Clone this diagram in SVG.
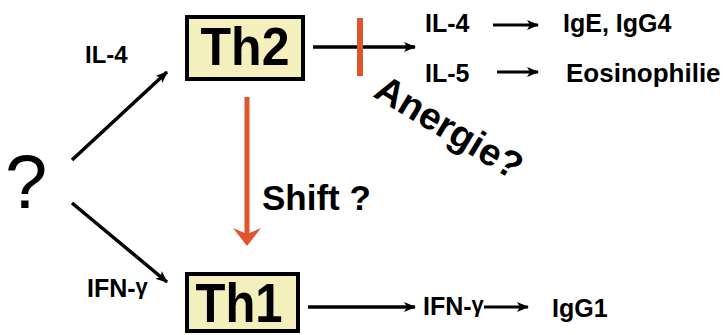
<svg xmlns="http://www.w3.org/2000/svg" width="725" height="335" viewBox="0 0 725 335">
<style>
.t{font-family:"Liberation Sans",Arial,sans-serif;font-weight:bold;fill:#000}
.box{fill:#f4f0bd;stroke:#000;stroke-width:4}
.ln{stroke:#000;stroke-width:3.5;fill:none}
.sm{stroke:#000;stroke-width:3;fill:none}
</style>
<defs>
<marker id="ah" viewBox="0 0 12 10" refX="11" refY="5" markerWidth="12" markerHeight="10" markerUnits="userSpaceOnUse" orient="auto">
<path d="M0,0 L12,5 L0,10 L3,5 Z" fill="#000"/>
</marker>
</defs>
<rect width="725" height="335" fill="#fff"/>
<g id="q"><text x="5" y="208" font-family="Liberation Sans,Arial,sans-serif" font-size="76" fill="#000">?</text></g>
<g id="th2"><rect class="box" x="187" y="17" width="116" height="62"/><text class="t" transform="translate(245,65) scale(1,1.08)" font-size="50" text-anchor="middle">Th2</text></g>
<g id="th1"><rect class="box" x="187" y="274" width="111" height="57"/><text class="t" transform="translate(239,322) scale(1,1.12)" font-size="49" text-anchor="middle">Th1</text></g>
<g id="labels">
<text class="t" x="85" y="63" font-size="24">IL-4</text>
<text class="t" x="87" y="297" font-size="25">IFN-<tspan font-size="22" dy="-3">γ</tspan></text>
<text class="t" x="425" y="32" font-size="25">IL-4</text>
<text class="t" x="563" y="32" font-size="25">IgE, IgG4</text>
<text class="t" x="425" y="82" font-size="25">IL-5</text>
<text class="t" x="566" y="82" font-size="26">Eosinophilie</text>
<text class="t" x="423" y="315" font-size="25">IFN-<tspan font-size="22" dy="-3">γ</tspan></text>
<text class="t" x="552" y="317" font-size="25">IgG1</text>
<text class="t" x="262" y="210" font-size="35">Shift ?</text>
<text class="t" transform="translate(372,96) rotate(31)" font-size="38">Anergie?</text>
</g>
<g id="connectors">
<line class="ln" x1="72" y1="160" x2="167" y2="72" marker-end="url(#ah)"/>
<line class="ln" x1="72" y1="203" x2="167" y2="282" marker-end="url(#ah)"/>
<line class="ln" x1="313" y1="47" x2="415" y2="47" marker-end="url(#ah)"/>
<line class="ln" x1="308" y1="307" x2="415" y2="307" marker-end="url(#ah)"/>
<line class="sm" x1="493" y1="25" x2="538" y2="25" marker-end="url(#ah)"/>
<line class="sm" x1="497" y1="72" x2="538" y2="72" marker-end="url(#ah)"/>
<line class="sm" x1="484" y1="307" x2="528" y2="307" marker-end="url(#ah)"/>
<line x1="360" y1="18" x2="360" y2="76" stroke="#e0562c" stroke-width="6"/>
<line x1="247" y1="97" x2="247" y2="234" stroke="#e0562c" stroke-width="5"/>
<path d="M247,246 L233,228 L247,234 L261,228 Z" fill="#e0562c"/>
</g>
</svg>
